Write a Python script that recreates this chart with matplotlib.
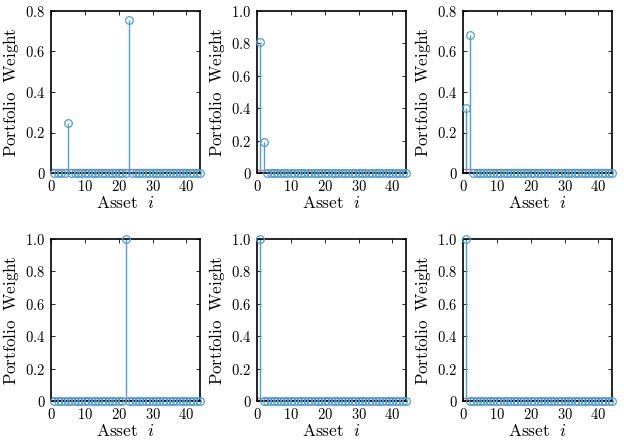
import matplotlib
matplotlib.use('Agg')
import matplotlib.pyplot as plt
import numpy as np
from matplotlib.ticker import FuncFormatter

plt.rcParams['mathtext.fontset'] = 'cm'

# portfolio weights, 44 assets, only non-zero ones listed
n_assets = 44
assets = np.arange(1, n_assets + 1)
panels = [
    {5: 0.245, 23: 0.755},
    {1: 0.81, 2: 0.19},
    {1: 0.32, 2: 0.68},
    {22: 1.0},
    {1: 1.0},
    {1: 1.0},
]
ymax = [0.8, 1.0, 0.8, 1.0, 1.0, 1.0]
threshold = 0.02
xticks = [0, 10, 20, 30, 40]

blue = '#4d9fd6'
red = '#e87070'

fig = plt.figure(figsize=(6.24, 4.42), dpi=100)
lefts = [51, 257, 463]
bottoms = [173, 401]


def fmt(v, pos):
    if abs(v) < 1e-9:
        return r'$0$'
    return r'$%.1f$' % v


for k, nz in enumerate(panels):
    r, c = divmod(k, 3)
    ax = fig.add_axes([lefts[c] / 624, 1 - bottoms[r] / 442, 149 / 624, 162 / 442])
    w = np.zeros(n_assets)
    for i, v in nz.items():
        w[i - 1] = v
    ax.axhline(threshold, color=red, lw=1, zorder=1)
    ml, sl, bl = ax.stem(assets, w, linefmt='-', markerfmt='o', basefmt='k-')
    plt.setp(sl, color=blue, lw=1)
    plt.setp(ml, color=blue, markerfacecolor='none', markersize=5.5, mew=0.9, clip_on=False, zorder=3)
    plt.setp(bl, color='k', lw=1.2)
    ax.set_xlim(0, n_assets)
    ax.set_ylim(0, ymax[k])
    ax.set_xticks(xticks)
    ax.set_yticks(np.arange(0, ymax[k] + 0.01, 0.2))
    ax.xaxis.set_major_formatter(FuncFormatter(lambda v, p: r'$%d$' % v))
    ax.yaxis.set_major_formatter(FuncFormatter(fmt))
    ax.tick_params(direction='in', top=True, right=True, length=3, width=0.6, labelsize=10.5, pad=4)
    for s in ax.spines.values():
        s.set_linewidth(1.2)
    ax.set_xlabel(r'$\mathrm{Asset}\ \ i$', fontsize=12.5, labelpad=0)
    ax.set_ylabel(r'$\mathrm{Portfolio\ \ Weight}$', fontsize=12.2, labelpad=3)

plt.savefig('out.png', dpi=100)
